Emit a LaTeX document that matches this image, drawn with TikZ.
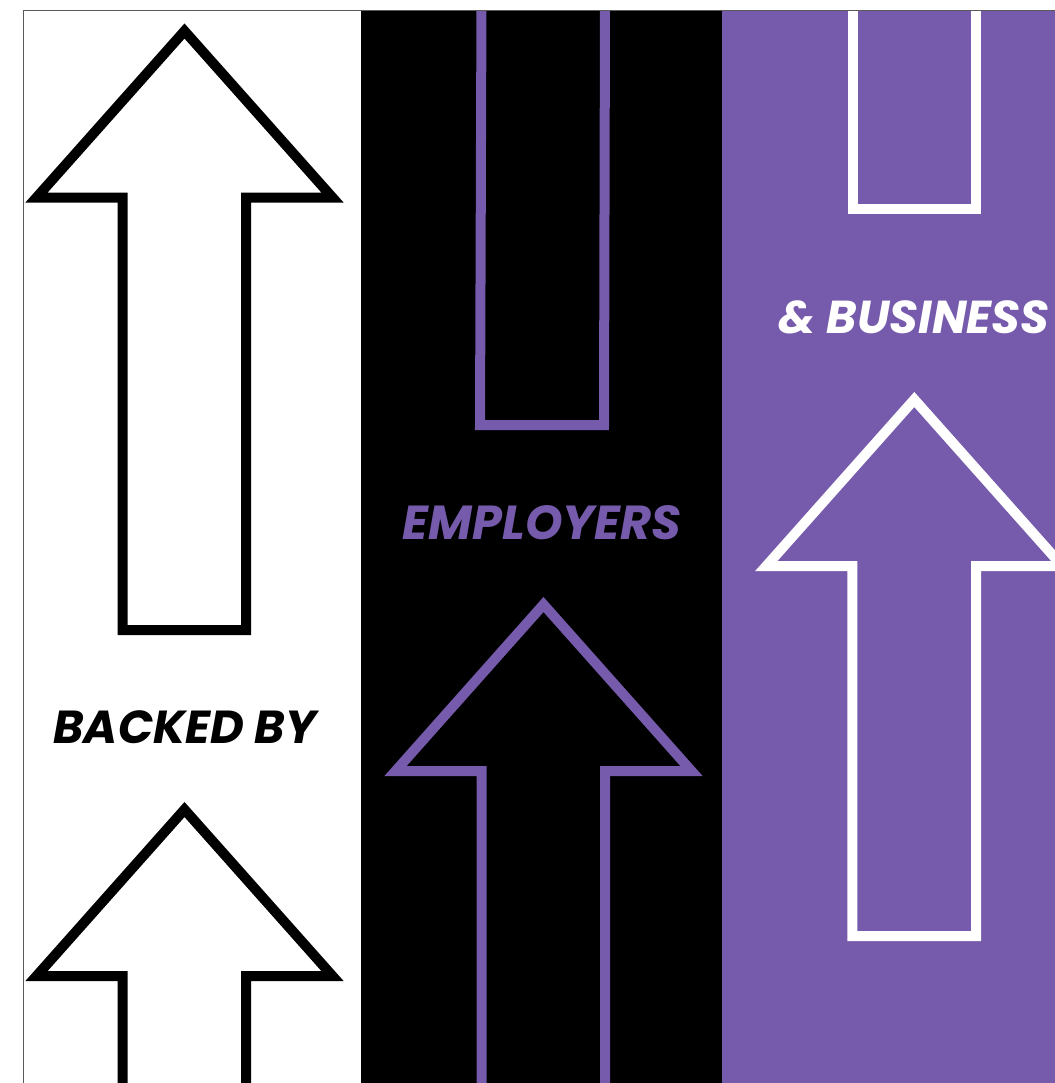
\documentclass[tikz,border=0pt]{standalone}
\usepackage{fontspec}
\setmainfont{Poppins}
\definecolor{vio}{HTML}{765AAC}
\tikzset{
  arrowline/.style={line width=7.5pt,miter limit=10,line join=miter,line cap=butt},
  caption/.style={inner sep=0pt,font=\bfseries\itshape}
}
\begin{document}
\begin{tikzpicture}[x=0.75pt,y=-0.75pt]
\useasboundingbox (0,0) rectangle (1055,1083);
\fill[white] (0,0) rectangle (1055,1083);
\fill[white] (24,10) rectangle (361,1083);
\fill[black] (361,10) rectangle (722,1083);
\fill[vio] (722,10) rectangle (1055,1083);
\draw[gray!70!black,line width=0.75pt] (23.5,1083) -- (23.5,10.5) -- (1055,10.5);
\begin{scope}
\clip (0,11) rectangle (1055,1083);
% left column
\draw[arrowline,black] (184.5,31) -- (332.5,197.5) -- (246,197.5) -- (246,630) -- (122.5,630) -- (122.5,197.5) -- (36.5,197.5) -- cycle;
\draw[arrowline,black] (122.5,1100) -- (122.5,976) -- (36.5,976) -- (184.5,809.5) -- (332.5,976) -- (246,976) -- (246,1100);
% middle column
\draw[arrowline,vio] (605,0) -- (604,425) -- (480,425) -- (481.5,0);
\draw[arrowline,vio] (481.7,1100) -- (481.7,771) -- (395.5,771) -- (543.5,604.5) -- (691.5,771) -- (605,771) -- (605,1100);
% right column
\draw[arrowline,white] (976,0) -- (976,209) -- (852.6,209) -- (852.6,0);
\draw[arrowline,white] (914.3,399.5) -- (1062.3,566) -- (976,566) -- (976,936) -- (852.3,936) -- (852.3,566) -- (766.3,566) -- cycle;
\end{scope}
\node[caption,text=black] (backed) at (185,727) {\fontsize{34.7pt}{38pt}\selectfont BACKED BY};
\node[caption,text=vio] (employers) at (542,523) {\fontsize{35.8pt}{38pt}\selectfont EMPLOYERS};
\node[caption,text=white] (business) at (914,317.5) {\fontsize{34.6pt}{38pt}\selectfont \& BUSINESS};
\end{tikzpicture}
\end{document}
